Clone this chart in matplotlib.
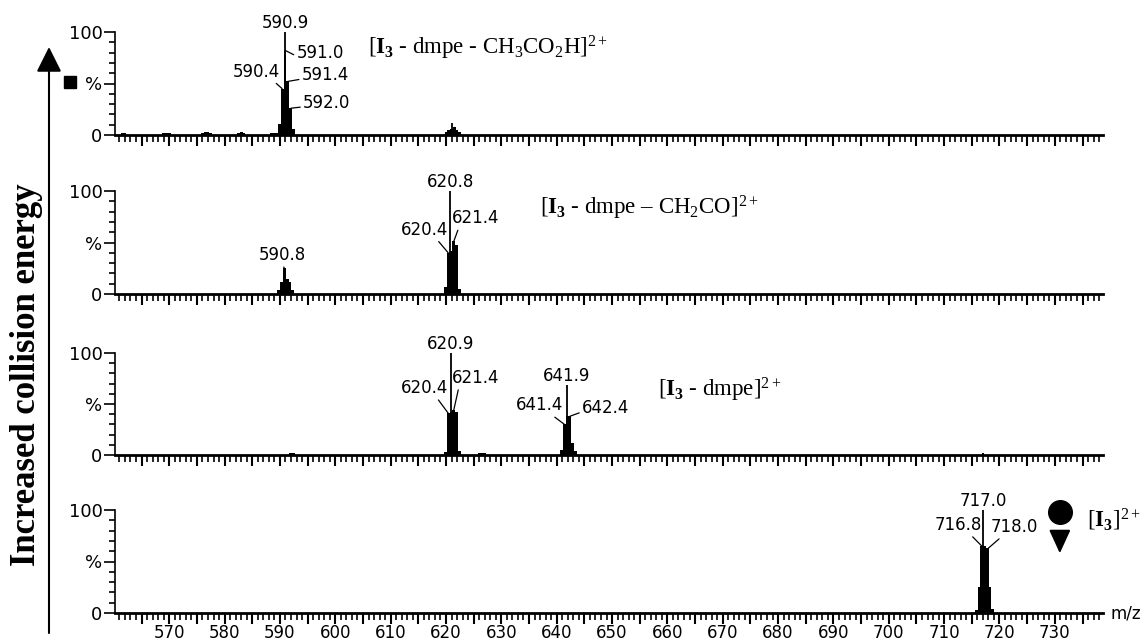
import numpy as np
import matplotlib
matplotlib.use("Agg")
import matplotlib.pyplot as plt
from matplotlib.ticker import MultipleLocator

# --- données (m/z, intensité relative %) ---
# spectre 1 : [I3 - dmpe - CH3CO2H]2+
mz_1 = [561.5, 562.0, 569.0, 569.5, 570.0, 576.0, 576.5, 577.0, 577.5, 582.5, 583.0, 583.5,
        588.5, 589.0, 589.5, 589.9, 590.4, 590.9, 591.4, 591.9, 592.4,
        620.0, 620.5, 621.0, 621.5, 622.0, 622.5]
int_1 = [2, 2, 2, 2, 2, 2, 3, 3, 2, 2, 3, 2,
         2, 2, 2, 11, 45, 82, 52, 26, 6,
         3, 5, 6, 8, 5, 3]
apex_mz_1 = [590.9, 621.0]
apex_int_1 = [100, 12]
labels_1 = [("590.9", 590.9, 100), ("591.0", 591.0, 82), ("590.4", 590.4, 45),
            ("591.4", 591.4, 52), ("592.0", 592.0, 26)]

# spectre 2 : [I3 - dmpe - CH2CO]2+
mz_2 = [589.8, 590.3, 590.8, 591.3, 591.8, 592.3,
        619.9, 620.4, 620.9, 621.4, 621.9, 622.4]
int_2 = [4, 12, 25, 15, 12, 4,
         7, 40, 42, 51, 48, 5]
apex_mz_2 = [620.8]
apex_int_2 = [100]
labels_2 = [("590.8", 590.8, 25), ("620.8", 620.8, 100), ("620.4", 620.4, 40),
            ("621.4", 621.4, 51)]

# spectre 3 : [I3 - dmpe]2+
mz_3 = [591.9, 592.4, 619.9, 620.4, 620.9, 621.4, 621.9, 622.4, 626.0, 626.5, 627.0,
        640.9, 641.4, 641.9, 642.4, 642.9, 643.4, 717.0]
int_3 = [2, 2, 3, 41, 42, 44, 42, 4, 2, 2, 2,
         5, 30, 38, 38, 12, 4, 2]
apex_mz_3 = [620.9, 641.9]
apex_int_3 = [100, 69]
labels_3 = [("620.9", 620.9, 100), ("620.4", 620.4, 41), ("621.4", 621.4, 44),
            ("641.9", 641.9, 69), ("641.4", 641.4, 30), ("642.4", 642.4, 38)]

# spectre 4 : [I3]2+
mz_4 = [715.8, 716.3, 716.8, 717.3, 717.8, 718.3, 718.8]
int_4 = [3, 25, 65, 65, 63, 25, 4]
apex_mz_4 = [717.0]
apex_int_4 = [100]
labels_4 = [("717.0", 717.0, 100), ("716.8", 716.8, 65), ("718.0", 718.0, 63)]

ion_names = [r"[$\mathbf{I_3}$ - dmpe - CH$_3$CO$_2$H$]^{2+}$",
             r"[$\mathbf{I_3}$ - dmpe – CH$_2$CO$]^{2+}$",
             r"[$\mathbf{I_3}$ - dmpe$]^{2+}$",
             r"[$\mathbf{I_3}$$]^{2+}$"]

xtick_values = [570, 580, 590, 600, 610, 620, 630, 640, 650, 660, 670, 680, 690, 700, 710, 720, 730]

plt.rcParams["mathtext.fontset"] = "custom"
plt.rcParams["mathtext.rm"] = "Liberation Serif"
plt.rcParams["mathtext.bf"] = "Liberation Serif:bold"
plt.rcParams["mathtext.it"] = "Liberation Serif:italic"
plt.rcParams["font.family"] = "DejaVu Sans"

fig = plt.figure(figsize=(11.45, 6.44), dpi=100)
W, H = 1145, 644

# position des panneaux (pixels : ligne du 0, ligne du 100)
panel_px = [(135, 32), (294, 191), (455, 353), (613, 510)]
x0, x1 = 115, 1103

spectra = [(mz_1, int_1, apex_mz_1, apex_int_1, labels_1),
           (mz_2, int_2, apex_mz_2, apex_int_2, labels_2),
           (mz_3, int_3, apex_mz_3, apex_int_3, labels_3),
           (mz_4, int_4, apex_mz_4, apex_int_4, labels_4)]

# décalages des étiquettes (pixels) : dx, dy, ha, va, relpos ou None
label_layout = [
    [(0, 0, "center", "bottom", None), (11, -2, "left", "center", (0, 0.3)),
     (-2, 17, "right", "center", (0.85, 0)), (14, 6, "left", "center", (0, 0.3)),
     (12, 5, "left", "center", (0, 0.3))],
    [(-2, 4, "center", "bottom", (0.5, 0)), (0, 0, "center", "bottom", None),
     (0, 23, "right", "center", (0.75, 0)), (-2, 23, "left", "center", (0.15, 0))],
    [(0, 0, "center", "bottom", None), (0, 25, "right", "center", (0.75, 0)),
     (-2, 32, "left", "center", (0.15, 0)), (-1, 0, "center", "bottom", None),
     (-1.5, 19, "right", "center", (0.75, 0)), (12, 8, "left", "center", (0, 0.3))],
    [(0, 0, "center", "bottom", None), (0, 21, "right", "center", (0.75, 0)),
     (2, 21, "left", "center", (0.25, 0))],
]
# position des noms d'ions (m/z, %)
name_pos = [(605.9, 85), (637.0, 83.5), (658.3, 64), (735.8, 90)]

axes = []
for i, (mz, inten, amz, aint, labels) in enumerate(spectra):
    y0, y100 = panel_px[i]
    ax = fig.add_axes([x0 / W, 1 - y0 / H, (x1 - x0) / W, (y0 - y100) / H])
    axes.append(ax)
    ax.bar(mz, inten, width=0.5, color="black", linewidth=0)
    ax.vlines(amz, 0, aint, color="black", lw=1.3)
    ax.set_xlim(560.2, 738.7)
    ax.set_ylim(0, 100)
    for s in ["top", "right"]:
        ax.spines[s].set_visible(False)
    ax.spines["bottom"].set_linewidth(2)
    ax.spines["left"].set_linewidth(1.2)

    ax.set_yticks([0, 50, 100])
    ax.set_yticklabels(["0", "%", "100"], fontsize=13)
    ax.yaxis.set_minor_locator(MultipleLocator(10))
    ax.tick_params(axis="y", which="major", length=8, width=1.2, pad=1)
    ax.tick_params(axis="y", which="minor", length=4, width=1.2)

    major = np.arange(565, 739, 5)
    ax.set_xticks(major)
    if i == 3:
        ax.set_xticklabels([str(int(v)) if int(v) in xtick_values else "" for v in major], fontsize=12)
    else:
        ax.set_xticklabels([])
    ax.xaxis.set_minor_locator(MultipleLocator(1))
    ax.tick_params(axis="x", which="major", length=8, width=1.5, pad=0)
    ax.tick_params(axis="x", which="minor", length=5, width=1.2)

    # étiquettes des pics
    for (txt, pmz, pint), (dx, dy, ha, va, rp) in zip(labels, label_layout[i]):
        arrow = None
        if rp is not None:
            arrow = dict(arrowstyle="-", lw=0.9, color="black", shrinkA=0, shrinkB=0, relpos=rp)
        ax.annotate(txt, xy=(pmz, pint), xytext=(dx, dy), textcoords="offset pixels",
                    ha=ha, va=va, fontsize=12, annotation_clip=False, arrowprops=arrow)

    nx, ny = name_pos[i]
    ax.text(nx, ny, ion_names[i], fontsize=16.5, family="Liberation Serif",
            ha="left", va="center", clip_on=False)

# marqueurs
axes[0].plot([552.1], [51.5], marker="s", markersize=8, color="black", clip_on=False)
axes[3].plot([730.9], [98], marker="o", markersize=17, color="black", clip_on=False)
axes[3].annotate("", xy=(730.9, 58), xytext=(730.9, 79),
                 arrowprops=dict(arrowstyle="-|>,head_length=1.2,head_width=0.55", color="black",
                                 lw=1.5, mutation_scale=12, shrinkA=0, shrinkB=0),
                 annotation_clip=False)
axes[3].text(1.008, 0, "m/z", transform=axes[3].transAxes, fontsize=12, ha="left", va="center")

# flèche et titre à gauche
over = fig.add_axes([0, 0, 1, 1])
over.set_xlim(0, W)
over.set_ylim(H, 0)
over.axis("off")
over.annotate("", xy=(49, 47), xytext=(49, 633),
              arrowprops=dict(arrowstyle="-|>,head_length=1.1,head_width=0.55", color="black",
                              lw=1.5, mutation_scale=14, shrinkA=0, shrinkB=0))
over.text(27, 375, "Increased collision energy", rotation=90, fontsize=25,
          family="Liberation Serif", fontweight="bold", ha="center", va="center")

plt.savefig("out.png", dpi=100)
